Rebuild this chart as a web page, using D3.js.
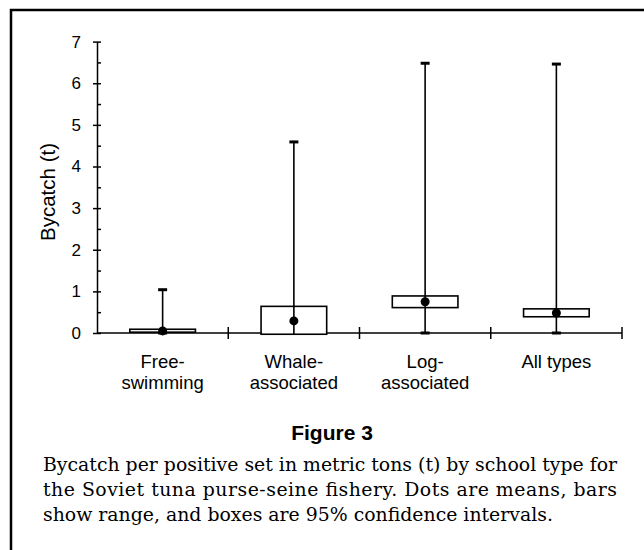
<!DOCTYPE html>
<html>
<head>
<meta charset="utf-8">
<script src="https://cdn.jsdelivr.net/npm/d3@7"></script>
<style>
  body { margin: 0; background: #fff; }
  svg { display: block; }
</style>
</head>
<body>
<div id="canvas"></div>
<script>
// school types and the numbers (metric tons)
var categories = ["Free-swimming", "Whale-associated", "Log-associated", "All types"];
var labelLines = [["Free-", "swimming"], ["Whale-", "associated"], ["Log-", "associated"], ["All types"]];
var means = [0.05, 0.29, 0.75, 0.48];
var rangeMin = [0, 0, 0, 0];
var rangeMax = [1.04, 4.59, 6.48, 6.46];
var ciLow = [0.02, -0.03, 0.61, 0.39];
var ciHigh = [0.09, 0.64, 0.89, 0.58];
var yTicks = [0, 1, 2, 3, 4, 5, 6, 7];
var captionLines = [
  "Bycatch per positive set in metric tons (t) by school type for",
  "the Soviet tuna purse-seine fishery. Dots are means, bars",
  "show range, and boxes are 95% confidence intervals."
];

var data = categories.map(function(c, i) {
  return {cat: c, mean: means[i], lo: rangeMin[i], hi: rangeMax[i], ciLo: ciLow[i], ciHi: ciHigh[i]};
});

var width = 644, height = 550;
var sans = "'Liberation Sans', Arial, Helvetica, sans-serif";

var svg = d3.select("#canvas").append("svg")
  .attr("width", width)
  .attr("height", height);

// frame (top and left edges are what shows)
svg.append("path")
  .attr("d", "M11,550 V10 H644")
  .attr("fill", "none")
  .attr("stroke", "#000")
  .attr("stroke-width", 2.5);

var x = d3.scaleBand()
  .domain(categories)
  .range([97, 622])
  .padding(0);

var y = d3.scaleLinear()
  .domain([0, 7])
  .range([333, 41.6]);

// y axis: major ticks cross the line, minor ticks on the right
var leftAxis = d3.axisLeft(y).tickValues(yTicks).tickSize(4).tickSizeOuter(0).tickPadding(12)
  .tickFormat(d3.format("d"));
svg.append("g")
  .attr("transform", "translate(97,0)")
  .call(leftAxis)
  .call(function(g) {
    g.selectAll("text").attr("font-family", sans).attr("font-size", 17).attr("fill", "#000");
    g.selectAll("line, path").attr("stroke-width", 1.5);
  });

var minorTicks = d3.range(0, 7.01, 0.5);
var rightAxis = d3.axisRight(y).tickValues(minorTicks).tickSize(4).tickSizeOuter(0).tickFormat("");
svg.append("g")
  .attr("transform", "translate(97,0)")
  .call(rightAxis)
  .call(function(g) {
    g.select(".domain").remove();
    g.selectAll("line").attr("stroke-width", 1.5);
  });

// x axis line with category separators
svg.append("line")
  .attr("x1", x.range()[0]).attr("x2", x.range()[1])
  .attr("y1", y(0)).attr("y2", y(0))
  .attr("stroke", "#000").attr("stroke-width", 1.5);

var bounds = categories.slice(1).map(function(c) { return x(c); }).concat([x.range()[1]]);
svg.selectAll(".sep").data(bounds).enter()
  .append("line")
  .attr("class", "sep")
  .attr("x1", function(d) { return d; })
  .attr("x2", function(d) { return d; })
  .attr("y1", y(0) - 6)
  .attr("y2", y(0) + 6)
  .attr("stroke", "#000").attr("stroke-width", 1.5);

// category labels
var cx = function(d) { return x(d) + x.bandwidth() / 2; };
var labels = svg.selectAll(".cat").data(categories).enter()
  .append("text")
  .attr("class", "cat")
  .attr("x", cx)
  .attr("y", 368)
  .attr("text-anchor", "middle")
  .attr("font-family", sans)
  .attr("font-size", 18.5)
  .attr("fill", "#000");
labels.each(function(d, i) {
  var t = d3.select(this);
  labelLines[i].forEach(function(line, j) {
    t.append("tspan")
      .attr("x", cx(d))
      .attr("dy", j === 0 ? 0 : 21)
      .text(line);
  });
});

// y axis title
svg.append("text")
  .attr("transform", "translate(55," + 192 + ") rotate(-90)")
  .attr("text-anchor", "middle")
  .attr("font-family", sans)
  .attr("font-size", 20.5)
  .attr("fill", "#000")
  .text("Bycatch (t)");

// range whiskers
var groups = svg.selectAll(".school").data(data).enter()
  .append("g")
  .attr("class", "school");

groups.append("line")
  .attr("x1", function(d) { return cx(d.cat); })
  .attr("x2", function(d) { return cx(d.cat); })
  .attr("y1", function(d) { return y(d.lo); })
  .attr("y2", function(d) { return y(d.hi); })
  .attr("stroke", "#000").attr("stroke-width", 1.6);

["hi", "lo"].forEach(function(k) {
  groups.append("line")
    .attr("x1", function(d) { return cx(d.cat) - 4.5; })
    .attr("x2", function(d) { return cx(d.cat) + 4.5; })
    .attr("y1", function(d) { return y(d[k]); })
    .attr("y2", function(d) { return y(d[k]); })
    .attr("stroke", "#000").attr("stroke-width", 3);
});

// confidence boxes
var boxW = x.bandwidth() * 0.5;
groups.append("rect")
  .attr("x", function(d) { return cx(d.cat) - boxW / 2; })
  .attr("y", function(d) { return y(d.ciHi); })
  .attr("width", boxW)
  .attr("height", function(d) { return y(d.ciLo) - y(d.ciHi); })
  .attr("fill", "#fff")
  .attr("stroke", "#000").attr("stroke-width", 1.6);

// whisker inside box drawn over fill
groups.append("line")
  .attr("x1", function(d) { return cx(d.cat); })
  .attr("x2", function(d) { return cx(d.cat); })
  .attr("y1", function(d) { return y(d.ciLo); })
  .attr("y2", function(d) { return y(d.ciHi); })
  .attr("stroke", "#000").attr("stroke-width", 1.6);

// means
groups.append("circle")
  .attr("cx", function(d) { return cx(d.cat); })
  .attr("cy", function(d) { return y(d.mean); })
  .attr("r", 4.5)
  .attr("fill", "#000");

// figure title
svg.append("text")
  .attr("x", 332)
  .attr("y", 440)
  .attr("text-anchor", "middle")
  .attr("font-family", sans)
  .attr("font-weight", "bold")
  .attr("font-size", 21)
  .attr("fill", "#000")
  .text("Figure 3");

// caption, first two lines justified
var capLeft = 43, capWidth = 574;
var cap = svg.append("g")
  .attr("font-family", "'DejaVu Serif', 'Liberation Serif', serif")
  .attr("fill", "#000");
var capText = cap.selectAll("text").data(captionLines).enter()
  .append("text")
  .attr("x", capLeft)
  .attr("y", function(d, i) { return 471 + i * 25; })
  .attr("font-size", 18)
  .text(function(d) { return d; });

// fit font so first line fills the measure
var natural = capText.node().getComputedTextLength();
var fs = 18 * capWidth / natural;
capText.attr("font-size", fs);
capText.filter(function(d, i) { return i < 2; })
  .attr("textLength", capWidth)
  .attr("lengthAdjust", "spacing");
</script>
</body>
</html>
